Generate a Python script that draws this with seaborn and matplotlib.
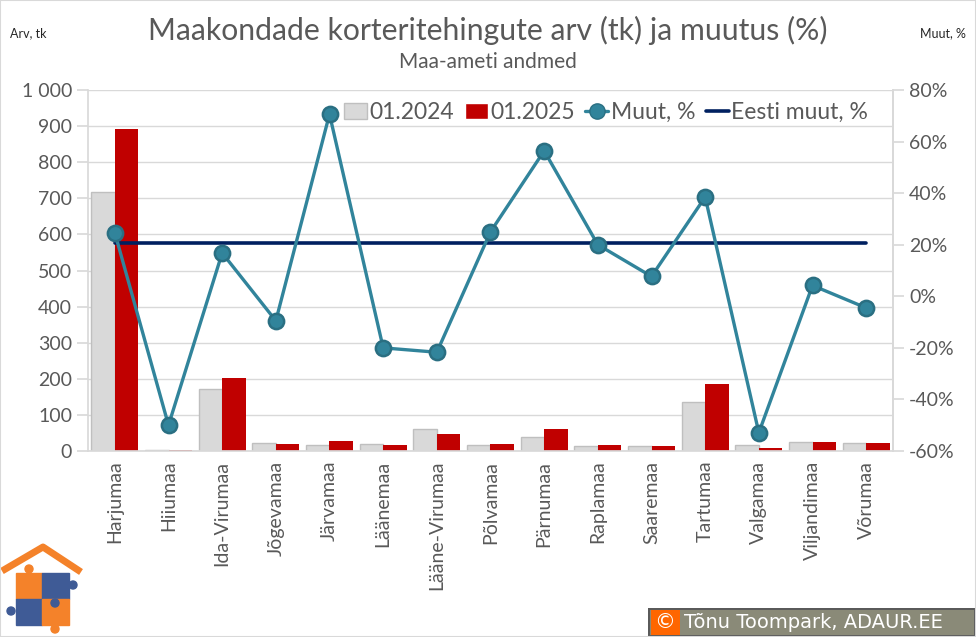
import numpy as np
import pandas as pd
import matplotlib
matplotlib.use("Agg")
import matplotlib.pyplot as plt
import seaborn as sns
from matplotlib.patches import Patch, Rectangle, Circle
from matplotlib.lines import Line2D
from matplotlib.ticker import FuncFormatter, MultipleLocator

maakonnad = ["Harjumaa", "Hiiumaa", "Ida-Virumaa", "Jõgevamaa", "Järvamaa", "Läänemaa",
             "Lääne-Virumaa", "Põlvamaa", "Pärnumaa", "Raplamaa", "Saaremaa", "Tartumaa",
             "Valgamaa", "Viljandimaa", "Võrumaa"]
arv_2024 = [717, 4, 173, 21, 17, 20, 60, 16, 39, 15, 13, 135, 17, 24, 22]
arv_2025 = [893, 2, 202, 19, 29, 16, 47, 20, 61, 18, 14, 186, 8, 25, 21]
muut = [24.6, -50.0, 16.8, -9.5, 70.6, -20.0, -21.7, 25.0, 56.4, 20.0, 7.7, 38.5, -52.9, 4.2, -4.5]
eesti_muut = 20.5

HALL = "#595959"
GRID = "#d9d9d9"
sns.set_theme(style="white")
plt.rcParams["font.family"] = ["Lato", "DejaVu Sans"]

df = pd.DataFrame({
    "maakond": maakonnad * 2,
    "periood": ["01.2024"] * len(maakonnad) + ["01.2025"] * len(maakonnad),
    "arv": arv_2024 + arv_2025,
})

fig = plt.figure(figsize=(9.76, 6.37), dpi=100)
ax = fig.add_axes([88 / 976, 186 / 637, 805 / 976, 361 / 637])

sns.barplot(data=df, x="maakond", y="arv", hue="periood",
            palette={"01.2024": "#d9d9d9", "01.2025": "#c00000"}, saturation=1,
            width=0.88, gap=0, legend=False, ax=ax, zorder=2)
for b in ax.containers[0]:
    b.set_edgecolor("#bfbfbf")
    b.set_linewidth(1.0)
for b in ax.containers[1]:
    b.set_linewidth(0)

ax.set_ylim(0, 1000)
ax.yaxis.set_major_locator(MultipleLocator(100))
ax.yaxis.set_major_formatter(FuncFormatter(lambda v, p: f"{int(v):,}".replace(",", " ")))
ax.yaxis.grid(True, color=GRID, linewidth=1)
ax.set_axisbelow(True)
ax.set_xlabel("")
ax.set_ylabel("")
ax.tick_params(axis="x", rotation=90, labelsize=14, labelcolor=HALL, length=0, pad=7)
ax.tick_params(axis="y", labelsize=14, labelcolor=HALL, length=8, color=GRID, direction="out", left=True)
for s in ["left", "right", "bottom"]:
    ax.spines[s].set_color(GRID)
ax.spines["top"].set_visible(False)

ax2 = ax.twinx()
sns.pointplot(x=maakonnad, y=muut, ax=ax2, color="#31849b", markers="o",
              markersize=11, linewidth=2.4, markeredgecolor="#2a6f82", zorder=4)
sns.lineplot(x=np.arange(len(maakonnad)), y=np.full(len(maakonnad), eesti_muut),
             color="#002060", linewidth=2.6, ax=ax2, zorder=3)
ax2.set_ylim(-60, 80)
ax2.yaxis.set_major_locator(MultipleLocator(20))
ax2.yaxis.set_major_formatter(FuncFormatter(lambda v, p: f"{int(round(v))}%"))
ax2.tick_params(axis="y", labelsize=14, labelcolor=HALL, length=8, color=GRID, direction="out", right=True)
ax2.set_xlim(-0.5, len(maakonnad) - 0.5)
ax.set_xlim(-0.5, len(maakonnad) - 0.5)
ax2.set_ylabel("")
ax2.set_xlabel("")
for s in ax2.spines.values():
    s.set_visible(False)
ax2.spines["right"].set_visible(True)
ax2.spines["right"].set_color(GRID)

handles = [
    Patch(facecolor="#d9d9d9", edgecolor="#bfbfbf"),
    Patch(facecolor="#c00000"),
    Line2D([], [], color="#31849b", marker="o", markersize=11, linewidth=2.4,
           markeredgecolor="#2a6f82"),
    Line2D([], [], color="#002060", linewidth=2.6),
]
ax2.legend(handles, ["01.2024", "01.2025", "Muut, %", "Eesti muut, %"], ncol=4,
           loc="upper right", bbox_to_anchor=(0.995, 1.025), frameon=False, fontsize=16.5,
           handlelength=1.0, handletextpad=0.12, columnspacing=0.45, labelcolor=HALL)

fig.text(0.5, 0.952, "Maakondade korteritehingute arv (tk) ja muutus (%)", ha="center",
         va="center", fontsize=21.7, color=HALL)
fig.text(0.5, 0.902, "Maa-ameti andmed", ha="center", va="center", fontsize=15, color=HALL)
fig.text(10 / 976, 0.948, "Arv, tk", ha="left", va="center", fontsize=9, color="#262626")
fig.text(966 / 976, 0.948, "Muut, %", ha="right", va="center", fontsize=9, color="#262626")

# logo
lg = fig.add_axes([0, 0, 90 / 976, 97 / 637])
lg.set_xlim(0, 90)
lg.set_ylim(97, 0)
lg.axis("off")
lg.plot([2, 43, 81], [31, 7, 32], color="#f4822a", linewidth=5, solid_capstyle="butt")
lg.add_patch(Rectangle((16, 33), 26, 26, color="#f4822a"))
lg.add_patch(Rectangle((42, 33), 27, 26, color="#3f5b96"))
lg.add_patch(Rectangle((16, 59), 26, 26, color="#3f5b96"))
lg.add_patch(Rectangle((42, 59), 27, 26, color="#f4822a"))
for (cx, cy, c) in [(29, 29, "#f4822a"), (73, 45, "#3f5b96"), (11, 71, "#3f5b96"),
                    (55, 89, "#f4822a"), (29, 53, "#f4822a"), (55, 63, "#3f5b96")]:
    lg.add_patch(Circle((cx, cy), 4, color=c))

# copyright
cp = fig.add_axes([648 / 976, 0, 328 / 976, 29 / 637])
cp.set_xlim(0, 328)
cp.set_ylim(0, 29)
cp.axis("off")
cp.add_patch(Rectangle((0, 0), 328, 29, facecolor="#5a5a5a", edgecolor="none"))
cp.add_patch(Rectangle((2, 2), 324, 25, facecolor="#8a8a78", edgecolor="none"))
cp.add_patch(Rectangle((3, 2), 29, 25, facecolor="#ff6600", edgecolor="none"))
cp.text(17, 14.5, "©", ha="center", va="center", color="white", fontsize=15,
        family="DejaVu Sans")
cp.text(36, 14, "Tõnu Toompark, ADAUR.EE", ha="left", va="center", color="white",
        fontsize=14, family="DejaVu Sans")

fig.patches.append(Rectangle((0, 0), 1, 1, transform=fig.transFigure, fill=False,
                             edgecolor="#d9d9d9", linewidth=1.5))
fig.savefig("out.png", dpi=100)
